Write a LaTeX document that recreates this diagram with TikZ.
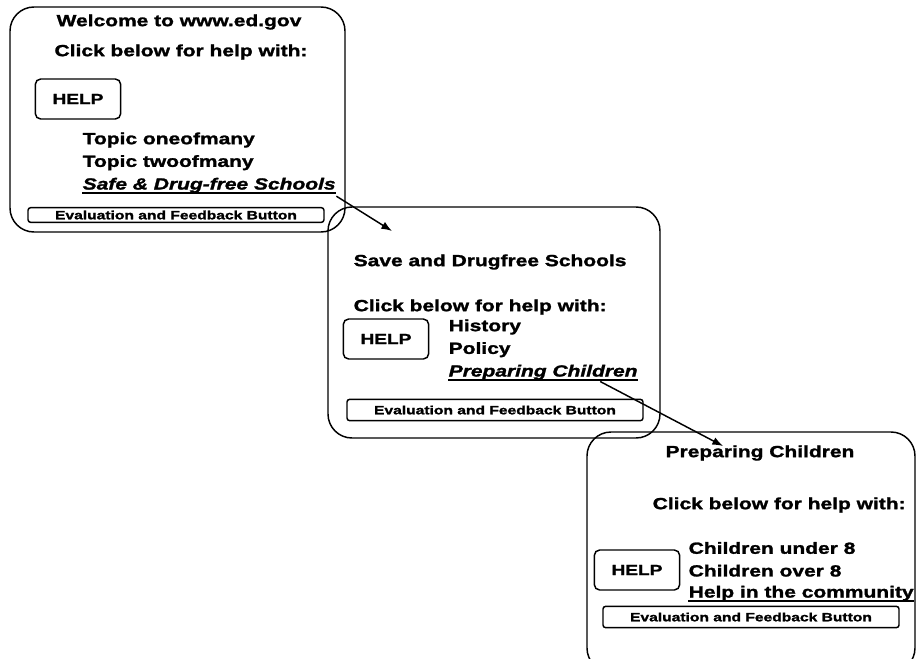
\documentclass[tikz,border=0pt]{standalone}
\usepackage{fontspec}
\setmainfont{Liberation Sans}[FakeStretch=1.3,BoldFeatures={FakeBold=1.6},BoldItalicFeatures={FakeBold=1.6}]
\usetikzlibrary{arrows.meta,calc,positioning}

\begin{document}
\begin{tikzpicture}[x=0.75pt,y=-0.75pt,line width=1.1pt,>={Latex[length=8pt,width=6pt]},
    window/.style={draw,rounded corners=18pt},
    helpbox/.style={draw,rounded corners=4pt,minimum width=64pt,minimum height=30pt,font=\fontsize{11}{13}\selectfont\bfseries},
    evalbox/.style={draw,rounded corners=2pt,minimum width=222pt,minimum height=15pt,inner sep=0pt,font=\fontsize{9}{11}\selectfont\bfseries},
    txt/.style={inner sep=0pt,font=\fontsize{12.1}{14}\selectfont\bfseries},
    item/.style={txt,anchor=west},
    uline/.style={line width=1.1pt},
    node distance=17pt]

    \useasboundingbox (0,0) rectangle (917,658);

    % home page
    \draw[window] (10,7) rectangle (345,232);
    \node[txt] (welcome) at (179,22) {Welcome to www.ed.gov};
    \node[txt] (click1) at (181,52) {Click below for help with:};
    \node[helpbox] (help1) at (78,99) {HELP};
    \node[item] (topic1) at (82,140) {Topic oneofmany};
    \node[item,below=of topic1.west,anchor=west] (topic2) {Topic twoofmany};
    \node[item,below=of topic2.west,anchor=west] (safe) {\itshape Safe \& Drug-free Schools};
    \draw[uline] ([yshift=-2.5pt]safe.base west) -- ([yshift=-2.5pt]safe.base east);
    \node[evalbox,minimum height=11pt] (eval1) at (176,215) {Evaluation and Feedback Button};

    % safe and drugfree schools
    \draw[window] (328,207) rectangle (660,438);
    \node[item] (save) at (353,262) {Save and Drugfree Schools};
    \node[item] (click2) at (353,307) {Click below for help with:};
    \node[helpbox] (help2) at (386,339) {HELP};
    \node[item] (history) at (448,327) {History};
    \node[item,below=of history.west,anchor=west] (policy) {Policy};
    \node[item,below=of policy.west,anchor=west] (prepch) {\itshape Preparing Children};
    \draw[uline] ([yshift=-2.5pt]prepch.base west) -- ([yshift=-2.5pt]prepch.base east);
    \node[evalbox,minimum height=16pt] (eval2) at (495,410) {Evaluation and Feedback Button};

    % preparing children
    \draw[window] (587,432) rectangle (915,672);
    \node[txt] (prep) at (760,453) {Preparing Children};
    \node[item] (click3) at (652,505) {Click below for help with:};
    \node[helpbox] (help3) at (637,570) {HELP};
    \node[item] (under) at (688,548) {Children under 8};
    \node[item,below=of under.west,anchor=west] (over) {Children over 8};
    \node[item,below=of over.west,anchor=west] (community) {Help in the community};
    \draw[uline] ([yshift=-2.5pt]community.base west) -- ([yshift=-2.5pt]community.base east);
    \node[evalbox,minimum height=16pt] (eval3) at (751,617) {Evaluation and Feedback Button};

    \coordinate (tip1) at (392,231);
    \coordinate (tip2) at (723,446);
    \draw[->] ([yshift=-5pt]safe.base east) -- (tip1);
    \draw[->] ($(prepch.base west)!0.8!(prepch.base east)+(0,5)$) -- (tip2);

\end{tikzpicture}
\end{document}
